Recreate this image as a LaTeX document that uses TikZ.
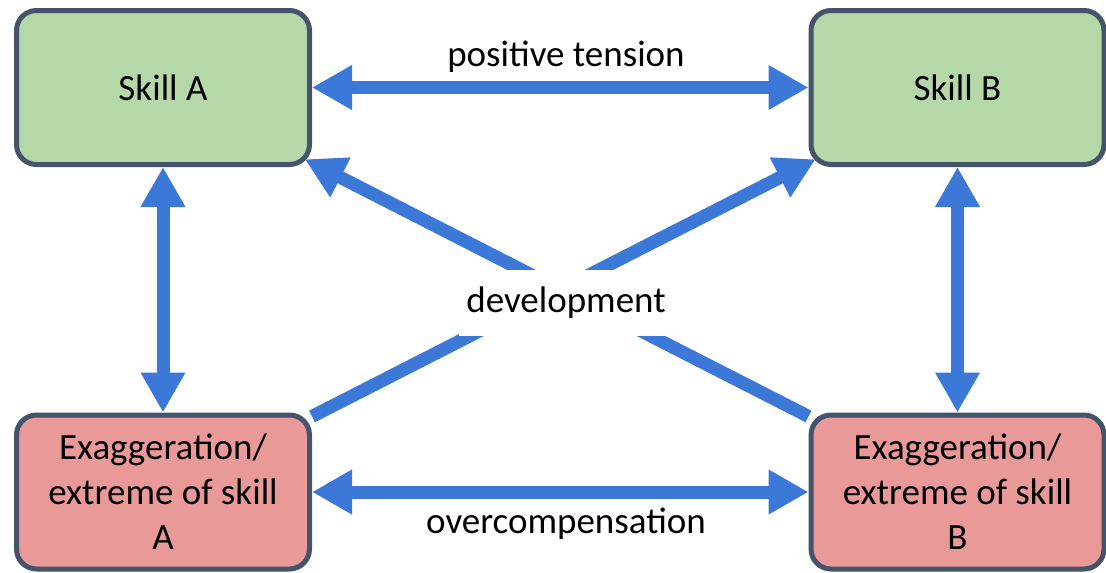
\documentclass[tikz,border=0pt]{standalone}
\usepackage{fontspec}
\setmainfont{Carlito}
\usetikzlibrary{arrows.meta,backgrounds}
\definecolor{boxline}{HTML}{44546A}
\definecolor{skillfill}{HTML}{B6D7A8}
\definecolor{extremefill}{HTML}{EA9999}
\definecolor{arrowblue}{HTML}{3C78D8}
\tikzset{
  box/.style={draw=boxline, line width=5pt, rounded corners=20pt,
    minimum width=293pt, minimum height=154pt, inner sep=0pt,
    align=center, font=\fontsize{37}{45}\selectfont},
  skill/.style={box, fill=skillfill},
  extreme/.style={box, fill=extremefill},
  lbl/.style={font=\fontsize{37}{45}\selectfont, inner sep=0pt},
  tip/.style={Triangle[length=40pt, width=42pt]},
  link/.style={draw=arrowblue, line width=13pt},
  both/.style={link, {Triangle[length=40pt, width=42pt]}-{Triangle[length=40pt, width=42pt]}},
  up/.style={link, -{Triangle[length=40pt, width=42pt]}, shorten >=-8pt}
}
\begin{document}
\begin{tikzpicture}[x=1pt, y=-1pt]
  \useasboundingbox (0,0) rectangle (1106,573);

  % the four boxes
  \node[skill]   (sa) at (163,87.5)   {Skill A};
  \node[skill]   (sb) at (957.5,87.5) {Skill B};
  \node[extreme] (ea) at (163,492)    {Exaggeration/\\extreme of skill\\A};
  \node[extreme] (eb) at (957.5,492)  {Exaggeration/\\extreme of skill\\B};

  % connectors behind the boxes
  \begin{scope}[on background layer]
    \draw[both] (sa) -- (sb);
    \draw[both] (ea) -- (eb);
    \draw[both] (sa) -- (ea);
    \draw[both] (sb) -- (eb);
    \draw[up] (ea) -- (sb);
    \draw[up] (eb) -- (sa);
  \end{scope}

  % labels
  \node[lbl] (pt) at (566,57)  {positive tension};
  \node[lbl] (oc) at (566,524) {overcompensation};
  \node[lbl, fill=white, minimum width=215pt, minimum height=66pt] (dev) at (566,303) {development};
\end{tikzpicture}
\end{document}
